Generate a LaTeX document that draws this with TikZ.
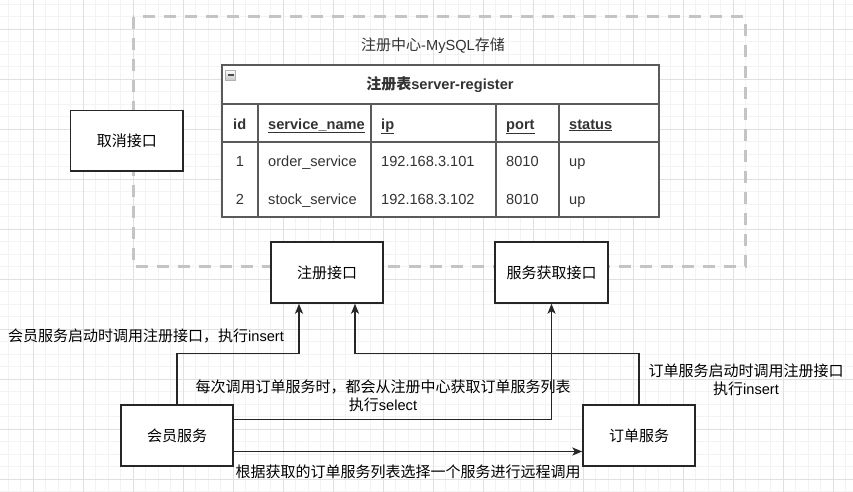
\documentclass[tikz,border=0pt]{standalone}
\usepackage{fontspec}
\setmainfont{Liberation Sans}
\newfontfamily\zh{Noto Sans CJK SC}
\usetikzlibrary{arrows.meta}
\newcommand\fsz{\fontsize{14.6}{18}\selectfont}
\newcommand\zfs{\fontsize{15}{18}\selectfont}
\definecolor{gridminor}{HTML}{F3F3F3}
\definecolor{gridmajor}{HTML}{E0E0E0}
\definecolor{dashgray}{HTML}{C4C4C4}
\definecolor{tblline}{HTML}{5A5A5A}
\definecolor{tbltext}{HTML}{333333}
\tikzset{
  box/.style={draw=black!85, line width=1.4pt, fill=white, inner sep=0pt, minimum width=112pt, minimum height=61pt, font=\zh\zfs},
  lbl/.style={inner sep=0pt, align=center, font=\zh\zfs, text=black},
  conn/.style={draw=black!85, line width=1.3pt, -{Stealth[length=10pt,width=8pt,inset=2.5pt]}},
  tline/.style={draw=tblline, line width=1.2pt},
  thead/.style={anchor=base west, inner sep=0pt, font=\fsz\bfseries, text=tbltext},
  tcell/.style={anchor=base west, inner sep=0pt, font=\fsz, text=tbltext},
}
\begin{document}
\begin{tikzpicture}[x=1pt, y=-1pt, font=\fsz]
\useasboundingbox (0,0) rectangle (853,492);
\fill[white] (0,0) rectangle (853,492);
% grid
\foreach \i in {0,...,68} { \draw[gridminor, line width=0.7pt] ({8+12.5*\i},0) -- ({8+12.5*\i},492); }
\foreach \i in {0,...,39} { \draw[gridminor, line width=0.7pt] (0,{4+12.5*\i}) -- (853,{4+12.5*\i}); }
\foreach \i in {0,...,17} { \draw[gridmajor, line width=0.7pt] ({33+50*\i},0) -- ({33+50*\i},492); }
\foreach \i in {0,...,9} { \draw[gridmajor, line width=0.7pt] (0,{29+50*\i}) -- (853,{29+50*\i}); }
% dashed container
\draw[dashgray, line width=3pt, dash pattern=on 12pt off 9pt] (133,17) rectangle (745,266.5);
\node[inner sep=0pt, font=\fsz, text=tbltext] (title) at (433,46) {{\zh\zfs 注册中心}-MySQL{\zh\zfs 存储}};
% table
\node[draw=tblline, line width=1.2pt, fill=white, inner sep=0pt, minimum width=437pt, minimum height=152pt] (tbl) at (440.5,141) {};
\draw[tline] (222,104) -- (659,104);
\draw[tline] (222,142) -- (659,142);
\foreach \xx in {258,371,496,559} { \draw[tline] (\xx,104) -- (\xx,217); }
\node[inner sep=0pt, minimum width=10pt, minimum height=10pt, draw=black!30, top color=white, bottom color=black!22] (icon) at (230.5,75) {};
\draw[black!70, line width=1.3pt] ([xshift=-3pt]icon.center) -- ([xshift=3pt]icon.center);
\node[inner sep=0pt, text=tbltext] (tbltitle) at (440,85) {{\zh\zfs\bfseries 注册表}\bfseries server-register};
\node[thead] (h1) at (233,129) {id};
\node[thead] (h2) at (268,129) {\underline{service\_name}};
\node[thead] (h3) at (381,129) {\underline{ip}};
\node[thead] (h4) at (506,129) {\underline{port}};
\node[thead] (h5) at (569,129) {\underline{status}};
\node[tcell, anchor=base] (r11) at (240,166) {1};
\node[tcell] (r12) at (268,166) {order\_service};
\node[tcell] (r13) at (381,166) {192.168.3.101};
\node[tcell] (r14) at (506,166) {8010};
\node[tcell] (r15) at (569,166) {up};
\node[tcell, anchor=base] (r21) at (240,204) {2};
\node[tcell] (r22) at (268,204) {stock\_service};
\node[tcell] (r23) at (381,204) {192.168.3.102};
\node[tcell] (r24) at (506,204) {8010};
\node[tcell] (r25) at (569,204) {up};
% boxes
\node[box, minimum width=112.5pt, minimum height=60.5pt] (cancel) at (126.75,140.75) {取消接口};
\node[box] (reg) at (327,272.5) {注册接口};
\node[box, minimum width=113pt] (fetch) at (551.5,272.5) {服务获取接口};
\node[box] (member) at (177,435.5) {会员服务};
\node[box] (order) at (639,435.5) {订单服务};
% labels
\node[lbl] (l1) at (146,336) {会员服务启动时调用注册接口，执行{\rmfamily\fsz insert}};
\node[lbl] (l2) at (383,396) {每次调用订单服务时，都会从注册中心获取订单服务列表\\执行{\rmfamily\fsz select}};
\node[lbl] (l3) at (746,380) {订单服务启动时调用注册接口\\执行{\rmfamily\fsz insert}};
\node[lbl] (l4) at (408,472) {根据获取的订单服务列表选择一个服务进行远程调用};
% connectors
\draw[conn] (member.north) -- ++(0,-51) -| ([xshift=-28pt]reg.south);
\draw[conn] (order.north) -- ++(0,-51) -| ([xshift=28pt]reg.south);
\draw[conn] ([yshift=16pt]member.east) -| (fetch.south);
\draw[conn] ([yshift=-16pt]member.east) -- ([yshift=-16pt]order.west);
\end{tikzpicture}
\end{document}
